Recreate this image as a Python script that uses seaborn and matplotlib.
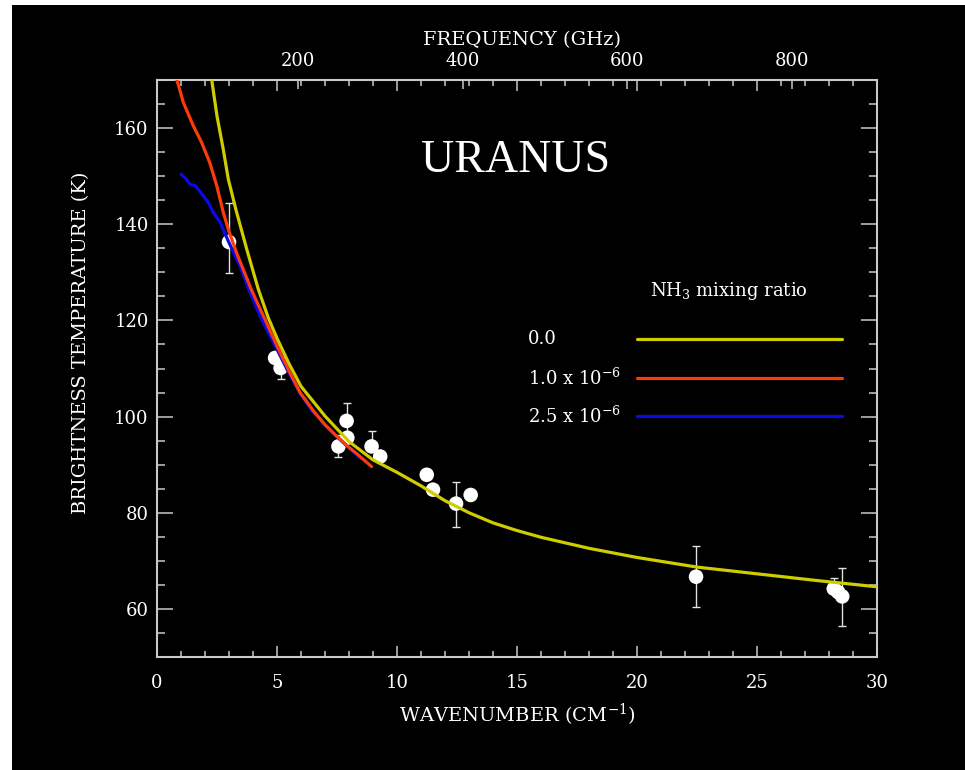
import matplotlib
matplotlib.use("Agg")
import matplotlib.pyplot as plt
from matplotlib.patches import Rectangle
from matplotlib.lines import Line2D
from matplotlib.ticker import MultipleLocator, FixedLocator
import seaborn as sns

# --- Radiative-transfer model curves (brightness temperature vs wavenumber) ---
wn_nh3_0 = [2.28, 2.5, 2.76, 2.97, 3.3, 3.74, 4.22, 4.64, 5.0, 5.5, 6.0, 6.5, 7.0, 8.0,
            9.0, 10.0, 11.0, 12.0, 13.0, 14.0, 15.0, 16.0, 18.0, 20.0, 22.5, 25.0, 27.5, 30.0]
tb_nh3_0 = [170.0, 162.5, 155.6, 149.4, 142.8, 134.8, 126.5, 120.5, 116.3, 111.0, 106.3, 103.2,
            100.1, 94.8, 91.0, 88.4, 85.6, 82.5, 80.0, 77.9, 76.3, 74.9, 72.6, 70.7, 68.7, 67.3,
            65.9, 64.6]

wn_nh3_1 = [0.82, 1.1, 1.51, 1.86, 2.2, 2.49, 2.76, 3.0, 3.32, 3.94, 4.5, 5.0, 5.5, 5.96,
            6.5, 7.0, 7.49, 8.0, 8.32, 8.94]
tb_nh3_1 = [170.2, 165.3, 160.5, 157.0, 152.8, 148.0, 142.5, 138.5, 134.0, 126.3, 120.2, 114.7,
            109.5, 105.0, 101.3, 98.3, 95.9, 93.6, 92.3, 89.6]

wn_nh3_2 = [1.0, 1.2, 1.375, 1.6, 1.79, 2.14, 2.35, 2.63, 2.97, 3.46, 3.875, 4.36, 5.0, 5.5,
            6.0, 6.5, 7.0, 7.5, 8.0, 8.5]
tb_nh3_2 = [150.4, 149.5, 148.3, 148.0, 146.8, 144.5, 142.4, 140.4, 136.5, 131.3, 125.8, 120.2,
            114.0, 109.0, 104.5, 101.0, 98.3, 95.8, 93.5, 91.3]

# --- Observed disk brightness temperatures ---
obs_wn = [3.0, 4.92, 5.15, 7.56, 7.9, 7.93, 8.94, 9.3, 11.24, 11.5, 12.46, 13.07,
          22.46, 28.2, 28.38, 28.55]
obs_tb = [136.3, 112.2, 110.1, 93.8, 99.1, 95.6, 93.8, 91.7, 87.9, 84.8, 81.9, 83.7,
          66.7, 64.2, 63.5, 62.6]
obs_err_lo = [6.5, 0, 2.3, 2.3, 3.1, 0, 0, 0, 0, 1.0, 4.8, 0, 6.4, 0, 0, 6.1]
obs_err_hi = [8.1, 0, 2.3, 2.3, 3.8, 0, 3.2, 0, 0, 1.0, 4.4, 0, 6.3, 2.3, 0, 5.9]

mix_labels = ["0.0", r"1.0 x 10$^{-6}$", r"2.5 x 10$^{-6}$"]
mix_colors = ["#cfcc00", "#ff3a0a", "#0a0ae6"]

wn_ticks = [0, 5, 10, 15, 20, 25, 30]
tb_ticks = [60, 80, 100, 120, 140, 160]
ghz_ticks = [200, 400, 600, 800]

# top-axis calibration (GHz per cm^-1 and zero offset in cm^-1)
GHZ_PER_WN = 29.15
WN_OFFSET = 0.99

FG = "#c8c8c8"

sns.set_theme(style="ticks", rc={"axes.facecolor": "black", "figure.facecolor": "white"})
plt.rcParams["font.family"] = ["DejaVu Serif"]
plt.rcParams["mathtext.fontset"] = "dejavuserif"

W, H = 965, 770
fig = plt.figure(figsize=(W / 100, H / 100), dpi=100, facecolor="white")
fig.patches.append(Rectangle((12 / W, 0), 1, (H - 5) / H, transform=fig.transFigure,
                             facecolor="black", edgecolor="none", zorder=-10))

ax = fig.add_axes([157 / W, 1 - 657 / H, 720 / W, 577 / H])
ax.set_facecolor("black")

# observations
ax.errorbar(obs_wn, obs_tb, yerr=[obs_err_lo, obs_err_hi], fmt="none", ecolor="#e0e0e0",
            elinewidth=1.0, capsize=3, capthick=1.0, zorder=2)
sns.scatterplot(x=obs_wn, y=obs_tb, color="white", s=110, edgecolor="none",
                marker="o", ax=ax, zorder=3)

# model curves
curves = [(wn_nh3_2, tb_nh3_2, mix_colors[2]),
          (wn_nh3_1, tb_nh3_1, mix_colors[1]),
          (wn_nh3_0, tb_nh3_0, mix_colors[0])]
for wn, tb, c in curves:
    sns.lineplot(x=wn, y=tb, color=c, lw=2.3, sort=False, estimator=None, ax=ax, zorder=4)

ax.set_xlim(0, 30)
ax.set_ylim(50, 170)
ax.xaxis.set_major_locator(FixedLocator(wn_ticks))
ax.xaxis.set_minor_locator(MultipleLocator(1))
ax.yaxis.set_major_locator(FixedLocator(tb_ticks))
ax.yaxis.set_minor_locator(MultipleLocator(5))
ax.set_xticklabels([str(v) for v in wn_ticks])
ax.set_yticklabels([str(v) for v in tb_ticks])

ax.tick_params(which="both", direction="in", colors=FG, labelcolor="white",
               top=True, right=True, labeltop=False, width=1.1)
ax.tick_params(axis="x", which="major", length=8, labelsize=13, pad=12)
ax.tick_params(axis="x", which="minor", length=4.3)
ax.tick_params(axis="y", which="major", length=11.5, labelsize=13, pad=6)
ax.tick_params(axis="y", which="minor", length=5.8)
for sp in ax.spines.values():
    sp.set_color(FG)
    sp.set_linewidth(1.5)

ax.set_xlabel(r"WAVENUMBER (CM$^{-1}$)", color="white", fontsize=14, va="center")
ax.xaxis.set_label_coords(0.5, (657 - 715) / 577)
ax.set_ylabel("BRIGHTNESS TEMPERATURE (K)", color="white", fontsize=14,
              va="center", ha="center")
ax.yaxis.set_label_coords((81 - 157) / 720, (657 - 343) / 577)

# frequency scale on top
secax = ax.secondary_xaxis(
    "top",
    functions=(lambda k: (k + WN_OFFSET) * GHZ_PER_WN,
               lambda f: f / GHZ_PER_WN - WN_OFFSET))
secax.set_xticks(ghz_ticks)
secax.set_xticklabels([str(v) for v in ghz_ticks])
secax.tick_params(direction="in", length=6.5, width=1.1, colors=FG, labelcolor="white",
                  labelsize=13, pad=7)
for sp in secax.spines.values():
    sp.set_visible(False)
ax.text((522 - 157) / 720, (657 - 40) / 577, "FREQUENCY (GHz)", transform=ax.transAxes,
        ha="center", va="center", color="white", fontsize=14)

# planet name
ax.text((516 - 157) / 720, (657 - 161) / 577, "URANUS", transform=ax.transAxes,
        ha="center", va="center", color="white", fontsize=33,
        family=["Liberation Serif", "DejaVu Serif"])

# key for the NH3 mixing ratio
ax.text((729 - 157) / 720, (657 - 291) / 577, r"NH$_3$ mixing ratio", transform=ax.transAxes,
        ha="center", va="center", color="white", fontsize=13)
row_y = [(657 - 339) / 577, (657 - 378) / 577, (657 - 416) / 577]
for lab, c, yy in zip(mix_labels, mix_colors, row_y):
    ax.text((528 - 157) / 720, yy, lab, transform=ax.transAxes, ha="left", va="center",
            color="white", fontsize=13)
    ax.add_line(Line2D([(637 - 157) / 720, (842 - 157) / 720], [yy, yy],
                       transform=ax.transAxes, color=c, lw=2.3))

fig.savefig("out.png", dpi=100, facecolor=fig.get_facecolor())
